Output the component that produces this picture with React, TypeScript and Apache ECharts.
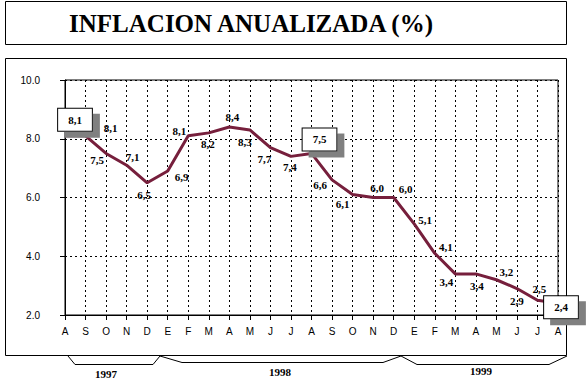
import React, { useEffect, useRef } from "react";
import * as echarts from "echarts";

const months = ["A","S","O","N","D","E","F","M","A","M","J","J","A","S","O","N","D","E","F","M","A","M","J","J","A"];
const inflation = [8.1, 8.1, 7.5, 7.1, 6.5, 6.9, 8.1, 8.2, 8.4, 8.3, 7.7, 7.4, 7.5, 6.6, 6.1, 6.0, 6.0, 5.1, 4.1, 3.4, 3.4, 3.2, 2.9, 2.5, 2.4];
const labelOffsets: [number, number][] = [
  [10, -16], [25, -8], [-9, 7], [6, -8], [-3, 12], [14, 6], [-9, -5], [-1, 11], [3, -10], [-5, 12],
  [-6, 11], [-1, 11], [8, -14], [-12, 5], [-10, 9], [4, -10], [12, -9], [11, -4], [11, -6], [-9, 8],
  [1, 12], [10, -8], [0, 12], [2, -11], [3, 4],
];
const boxedIdx = [0, 12, 24];
const yTicks = { min: 2, max: 10, interval: 2 };
const years = ["1997", "1998", "1999"];
const title = "INFLACION ANUALIZADA (%)";

export default function App() {
  const ref = useRef<HTMLDivElement>(null);
  useEffect(() => {
    const chart = echarts.init(ref.current!, null, { renderer: "svg" });
    const serif = "'Liberation Serif', 'Times New Roman', serif";
    const sans = "'Liberation Sans', Arial, sans-serif";
    const data = inflation.map((v, i) => {
      const boxed = boxedIdx.includes(i);
      return {
        value: v,
        label: {
          show: true,
          position: "inside",
          offset: labelOffsets[i],
          formatter: (p: any) => Number(p.value).toFixed(1).replace(".", ","),
          fontFamily: serif,
          fontWeight: "bold",
          fontSize: 11,
          color: "#000",
          ...(boxed
            ? {
                backgroundColor: "#fff",
                borderColor: "#000",
                borderWidth: 1,
                padding: [6, 10, 5, 10],
                shadowColor: "#808080",
                shadowBlur: 0,
                shadowOffsetX: 7,
                shadowOffsetY: 6,
              }
            : {}),
        },
      };
    });
    const bracket = (pts: number[][]) => ({
      type: "polyline",
      shape: { points: pts },
      style: { stroke: "#000", lineWidth: 1, fill: "none" },
      silent: true,
    });
    const yearText = (x: number, y: number, text: string) => ({
      type: "text",
      x,
      y,
      style: { text, fontFamily: serif, fontWeight: "bold", fontSize: 11, fill: "#000", align: "center", verticalAlign: "middle" },
      silent: true,
    });
    chart.setOption({
      animation: false,
      backgroundColor: "#fff",
      grid: {
        left: 65,
        right: 28,
        top: 80,
        bottom: 69,
        show: true,
        borderColor: "#000",
        borderWidth: 1,
        backgroundColor: "transparent",
        containLabel: false,
        outerBoundsMode: "none",
      },
      xAxis: {
        type: "category",
        data: months,
        boundaryGap: false,
        axisLine: { show: true, lineStyle: { color: "#000", width: 1 } },
        axisTick: { show: true, interval: 0, length: 5, lineStyle: { color: "#000" } },
        axisLabel: { interval: 0, margin: 11, fontFamily: sans, fontSize: 10, color: "#000" },
        splitLine: { show: true, interval: 0, lineStyle: { color: "#000", type: [2, 3], width: 1 } },
      },
      yAxis: {
        type: "value",
        min: yTicks.min,
        max: yTicks.max,
        interval: yTicks.interval,
        axisLine: { show: true, lineStyle: { color: "#000", width: 1 } },
        axisTick: { show: true, length: 5, lineStyle: { color: "#000" } },
        axisLabel: {
          margin: 25,
          fontFamily: sans,
          fontSize: 10,
          color: "#000",
          formatter: (v: number) => v.toFixed(1),
        },
        splitLine: { show: true, lineStyle: { color: "#000", type: [2, 3], width: 1 } },
      },
      series: [
        {
          type: "line",
          data,
          symbol: "circle",
          symbolSize: 1,
          showSymbol: true,
          itemStyle: { color: "#761f3c" },
          lineStyle: { color: "#761f3c", width: 3 },
          z: 3,
        },
      ],
      graphic: [
        {
          type: "rect",
          shape: { x: 5.5, y: 1.5, width: 561, height: 43 },
          style: { stroke: "#000", lineWidth: 1, fill: "none" },
          silent: true,
        },
        {
          type: "text",
          x: 251,
          y: 23,
          style: {
            text: title,
            fontFamily: serif,
            fontWeight: "bold",
            fontSize: 25,
            fill: "#000",
            align: "center",
            verticalAlign: "middle",
          },
          silent: true,
        },
        {
          type: "rect",
          shape: { x: 5.5, y: 58.5, width: 561, height: 297 },
          style: { stroke: "#000", lineWidth: 1, fill: "none" },
          silent: true,
          z: -1,
        },
        bracket([[68, 356], [75, 364.5], [153, 364.5], [160, 356]]),
        bracket([[160, 356], [182, 362.5], [383, 362.5], [401, 356]]),
        bracket([[401, 356], [417, 364.5], [549, 364.5], [567, 356]]),
        yearText(106, 374, years[0]),
        yearText(280, 372, years[1]),
        yearText(481, 371, years[2]),
      ],
    });
    return () => chart.dispose();
  }, []);
  return <div ref={ref} style={{ position: "fixed", left: 0, top: 0, width: 586, height: 384 }} />;
}
